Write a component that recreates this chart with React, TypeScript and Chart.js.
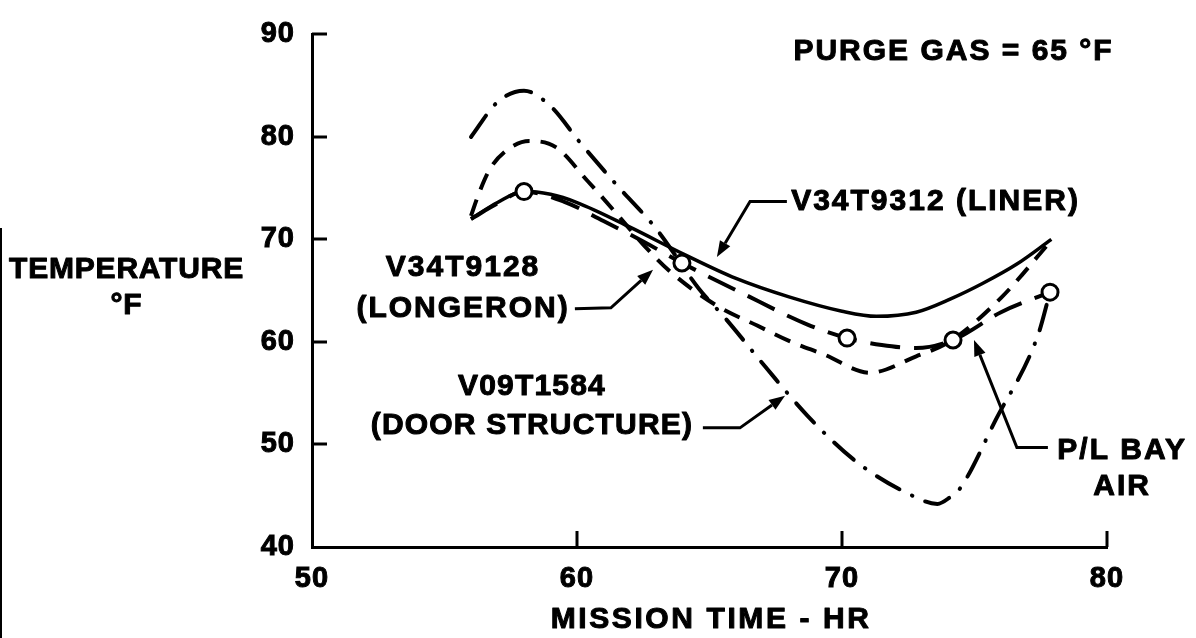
import React, { useEffect, useRef } from 'react';
import { Chart, registerables } from 'chart.js';

Chart.register(...registerables);

// ---- data (mission time in hours, temperature in °F) ----
const LINER_TIME = [56, 57, 58, 59, 60, 62, 64, 66, 68, 70, 71.3, 72.8, 74.1, 75.3, 76.6, 77.9];
const LINER_TEMP = [72, 73.6, 74.7, 74.4, 73.6, 71.2, 68.6, 66.2, 64.4, 63, 62.5, 62.9, 64.2, 65.7, 67.6, 70];

const PLBAY_TIME = [56, 57, 58, 59.5, 61, 62.5, 63.96, 66.2, 68.7, 70.19, 71.5, 72.8, 74.19, 76, 77.85];
const PLBAY_TEMP = [72, 73.5, 74.67, 73.7, 71.8, 69.8, 67.71, 64.8, 61.7, 60.38, 59.7, 59.4, 60.19, 62.9, 64.86];

const MARKER_TIME = [58, 63.96, 70.19, 74.19, 77.85];
const MARKER_TEMP = [74.67, 67.71, 60.38, 60.19, 64.86];

const LONGERON_TIME = [56, 56.3, 56.7, 57.3, 58.2, 59.2, 60.4, 61.5, 62.5, 63.5, 65.3, 66.8, 68, 69.3, 71.05, 72.8, 74.1, 76, 77.8];
const LONGERON_TEMP = [72.3, 74.5, 76.8, 78.6, 79.6, 79.0, 75.7, 72.5, 69.5, 66.9, 63.5, 61.6, 60.1, 58.8, 57.0, 58.6, 60.1, 64.3, 69.6];

const DOOR_TIME = [56, 57, 58, 59, 60.1, 61.5, 63, 64.6, 65.6, 67.1, 68.7, 70.5, 72.5, 73.6, 74.1, 74.45, 75.8, 77.4, 77.85];
const DOOR_TEMP = [80, 83.4, 84.5, 83.0, 79.5, 75.3, 71.0, 65.2, 62.3, 57.6, 52.8, 48.4, 45.2, 44.2, 44.9, 45.7, 52.4, 60.7, 64.86];

const X_MIN = 50;
const X_MAX = 80;
const X_STEP = 10;
const Y_MIN = 40;
const Y_MAX = 90;
const Y_STEP = 10;

const X_TITLE = 'MISSION TIME - HR';
const Y_TITLE = ['TEMPERATURE', '°F'];
const PURGE_NOTE = 'PURGE GAS = 65 °F';
const LINER_LABEL = ['V34T9312 (LINER)'];
const LONGERON_LABEL = ['V34T9128', '(LONGERON)'];
const DOOR_LABEL = ['V09T1584', '(DOOR STRUCTURE)'];
const PLBAY_LABEL = ['P/L BAY', 'AIR'];

const FONT = '"Liberation Sans", Arial, Helvetica, sans-serif';

const zip = (xs: number[], ys: number[]) => xs.map((x, i) => ({ x, y: ys[i] }));

// annotation placement, in data units
const TEXTS = [
  { lines: [PURGE_NOTE], x: 74.21, y: [88.33], sp: 2 },
  { lines: LINER_LABEL, x: 73.53, y: [73.71], sp: 2 },
  { lines: LONGERON_LABEL, x: 55.7, y: [67.24, 63.24], sp: 2 },
  { lines: DOOR_LABEL, x: 58.3, y: [55.62, 51.81], sp: 1.2 },
  { lines: PLBAY_LABEL, x: 80.57, y: [49.43, 45.9], sp: 2 },
  { lines: Y_TITLE, x: 43.0, y: [67.05, 63.52], sp: 0.8 },
  { lines: [X_TITLE], x: 65.06, y: [32.95], sp: 2.6 },
];

const ARROWS = [
  [[67.92, 73.71], [66.53, 73.71], [65.28, 68.29]],
  [[59.92, 63.24], [61.28, 63.33], [62.87, 67.05]],
  [[64.75, 51.62], [66.15, 51.62], [67.85, 54.76]],
  [[77.77, 49.71], [76.6, 49.71], [74.98, 60.19]],
];

const decorPlugin = {
  id: 'decor',
  beforeDraw(chart: any) {
    chart.ctx.letterSpacing = '1px';
  },
  afterDraw(chart: any) {
    const { ctx, chartArea } = chart;
    const xs = chart.scales.x;
    const ys = chart.scales.y;
    ctx.save();
    ctx.strokeStyle = '#000';
    ctx.fillStyle = '#000';
    ctx.lineWidth = 3;
    ctx.lineCap = 'butt';
    // inward tick marks
    for (let v = Y_MIN + Y_STEP; v <= Y_MAX; v += Y_STEP) {
      const py = Math.round(ys.getPixelForValue(v));
      ctx.beginPath();
      ctx.moveTo(chartArea.left, py);
      ctx.lineTo(chartArea.left + 15, py);
      ctx.stroke();
    }
    for (let v = X_MIN + X_STEP; v <= X_MAX; v += X_STEP) {
      const px = Math.round(xs.getPixelForValue(v));
      ctx.beginPath();
      ctx.moveTo(px, chartArea.bottom);
      ctx.lineTo(px, chartArea.bottom - 16);
      ctx.stroke();
    }
    // texts
    ctx.font = `bold 30px ${FONT}`;
    ctx.textAlign = 'center';
    ctx.textBaseline = 'middle';
    ctx.lineWidth = 1;
    ctx.lineJoin = 'round';
    TEXTS.forEach((t) => {
      ctx.letterSpacing = `${t.sp}px`;
      t.lines.forEach((line, i) => {
        const px = xs.getPixelForValue(t.x);
        const py = ys.getPixelForValue(t.y[i]);
        ctx.fillText(line, px, py);
        ctx.strokeText(line, px, py);
      });
    });
    ctx.letterSpacing = '0px';
    // arrows
    ctx.lineWidth = 3;
    ctx.lineJoin = 'miter';
    ARROWS.forEach((pts) => {
      const p = pts.map(([a, b]) => [xs.getPixelForValue(a), ys.getPixelForValue(b)]);
      const n = p.length;
      const [tx, ty] = p[n - 1];
      const [sx, sy] = p[n - 2];
      const ang = Math.atan2(ty - sy, tx - sx);
      const head = 16;
      const bx = tx - head * Math.cos(ang);
      const by = ty - head * Math.sin(ang);
      ctx.beginPath();
      ctx.moveTo(p[0][0], p[0][1]);
      for (let i = 1; i < n - 1; i++) ctx.lineTo(p[i][0], p[i][1]);
      ctx.lineTo(bx, by);
      ctx.stroke();
      ctx.beginPath();
      ctx.moveTo(tx, ty);
      ctx.lineTo(bx + 6 * Math.sin(ang), by - 6 * Math.cos(ang));
      ctx.lineTo(bx - 6 * Math.sin(ang), by + 6 * Math.cos(ang));
      ctx.closePath();
      ctx.fill();
    });
    // scan edge at the left
    ctx.lineWidth = 2;
    ctx.beginPath();
    ctx.moveTo(1, 228);
    ctx.lineTo(1, chart.height);
    ctx.stroke();
    ctx.restore();
    ctx.letterSpacing = '0px';
  },
};

export default function App() {
  const ref = useRef<HTMLCanvasElement>(null);

  useEffect(() => {
    if (!ref.current) return;
    const lineBase = {
      showLine: true,
      pointRadius: 0,
      pointHoverRadius: 0,
      borderColor: '#000',
      borderWidth: 4,
      cubicInterpolationMode: 'monotone' as const,
      fill: false,
      order: 1,
    };
    const tickFont = { family: FONT, size: 29, weight: 'bold' as const };
    const chart = new Chart(ref.current, {
      type: 'scatter',
      data: {
        datasets: [
          { ...lineBase, label: 'V34T9312 (LINER)', data: zip(LINER_TIME, LINER_TEMP), borderWidth: 3.5 },
          { ...lineBase, label: 'V34T9128 (LONGERON)', data: zip(LONGERON_TIME, LONGERON_TEMP), borderDash: [17, 11] },
          {
            ...lineBase,
            label: 'V09T1584 (DOOR STRUCTURE)',
            data: zip(DOOR_TIME, DOOR_TEMP),
            borderDash: [26, 14, 0.5, 14],
            borderCapStyle: 'round' as const,
          },
          { ...lineBase, label: 'P/L BAY AIR', data: zip(PLBAY_TIME, PLBAY_TEMP), borderDash: [30, 14] },
          {
            label: 'P/L BAY AIR points',
            data: zip(MARKER_TIME, MARKER_TEMP),
            order: 0,
            showLine: false,
            pointRadius: 8,
            pointHoverRadius: 8,
            pointBackgroundColor: '#fff',
            pointBorderColor: '#000',
            pointBorderWidth: 3,
          },
        ],
      },
      options: {
        responsive: false,
        animation: false,
        devicePixelRatio: 1,
        layout: { padding: { left: 0, right: 89, top: 22, bottom: 0 } },
        plugins: { legend: { display: false }, tooltip: { enabled: false }, title: { display: false } },
        events: [],
        scales: {
          x: {
            type: 'linear',
            min: X_MIN,
            max: X_MAX,
            ticks: {
              stepSize: X_STEP,
              color: '#000',
              font: tickFont,
              textStrokeColor: '#000',
              textStrokeWidth: 1,
              padding: 15,
              maxRotation: 0,
            },
            grid: { display: false, drawTicks: false, tickLength: 0 },
            border: { display: true, color: '#000', width: 3 },
            afterFit: (s: any) => {
              s.height = 91;
            },
          },
          y: {
            type: 'linear',
            min: Y_MIN,
            max: Y_MAX,
            ticks: {
              stepSize: Y_STEP,
              color: '#000',
              font: tickFont,
              textStrokeColor: '#000',
              textStrokeWidth: 1,
              padding: 17,
            },
            grid: { display: false, drawTicks: false, tickLength: 0 },
            border: { display: true, color: '#000', width: 3 },
            afterFit: (s: any) => {
              s.width = 312;
            },
          },
        },
      } as any,
      plugins: [decorPlugin],
    });
    return () => chart.destroy();
  }, []);

  return (
    <div style={{ position: 'fixed', left: 0, top: 0, width: 1196, height: 638, background: '#fff' }}>
      <canvas ref={ref} width={1196} height={638} style={{ width: 1196, height: 638, display: 'block' }} />
    </div>
  );
}
